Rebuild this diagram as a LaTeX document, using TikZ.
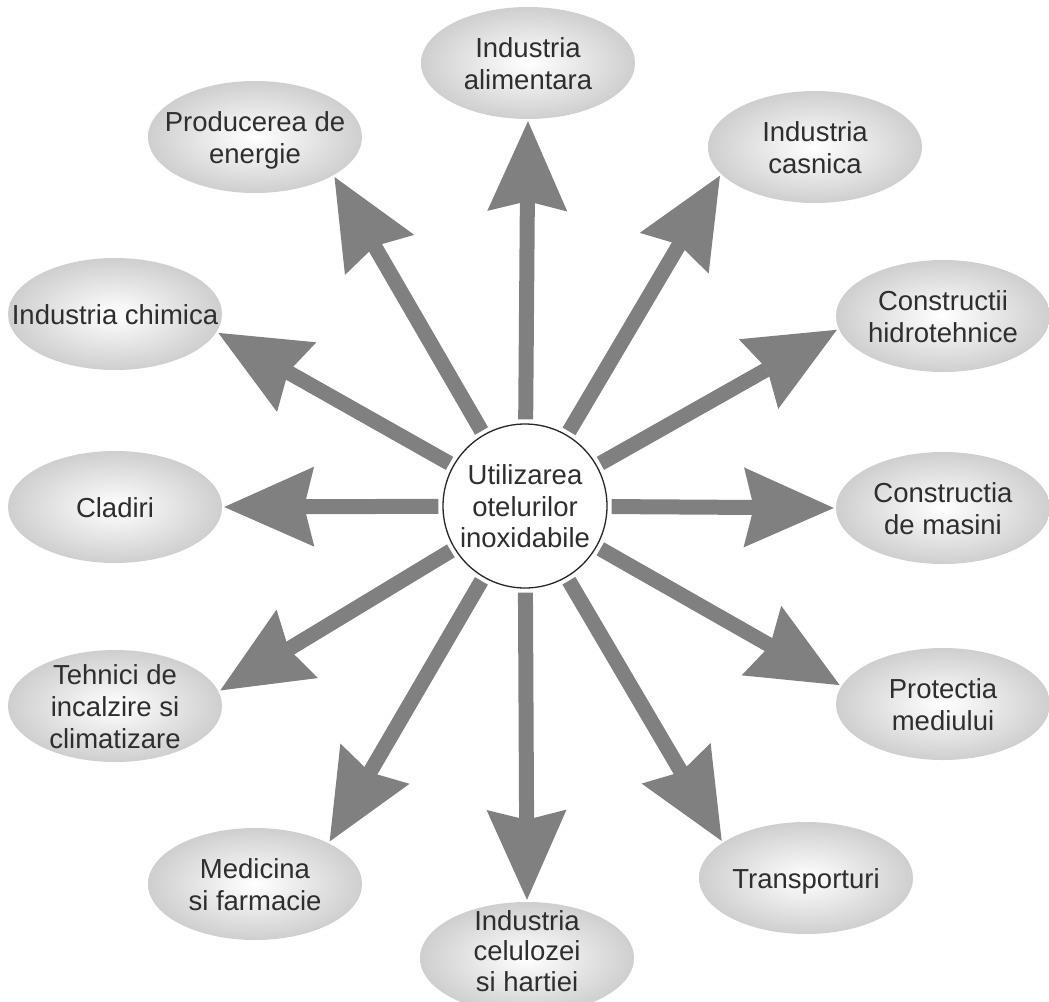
\documentclass[tikz,border=0pt]{standalone}
\usepackage{fontspec}
\setmainfont{Liberation Sans}
\usetikzlibrary{arrows.meta,shapes.geometric}
\definecolor{arrgray}{HTML}{808080}
\definecolor{txtgray}{HTML}{2E2E2E}
\newcommand\flattext[2][-10pt]{\makebox[0pt]{\smash{\raisebox{#1}{\begin{tabular}{@{}c@{}}#2\end{tabular}}}}}
\tikzset{
  field/.style={ellipse, shade, inner color=white, outer color=black!19,
    minimum width=214pt, minimum height=112pt, inner sep=0pt,
    text=txtgray, font=\fontsize{27.5}{32}\selectfont},
  hub/.style={circle, draw=black!85, line width=1.3pt, fill=white, minimum size=164pt,
    inner sep=0pt, text=txtgray, font=\fontsize{27.5}{31.5}\selectfont},
  ray/.style={draw=arrgray, line width=15pt,
    -{Stealth[length=90pt,width=80pt,inset=10pt,line width=0pt]},
    shorten <=4pt, shorten >=2pt}
}
\begin{document}
\begin{tikzpicture}[x=1pt,y=-1pt]
\clip (0,0) rectangle (1049,1001);
\useasboundingbox (0,0) rectangle (1049,1001);
\fill[white] (0,0) rectangle (1049,1001);

\node[hub] (c) at (525,506) {\flattext{Utilizarea\\otelurilor\\inoxidabile}};

\node[field] (alim) at (528,63) {\flattext{Industria\\alimentara}};
\node[field] (prod) at (255,137) {\flattext{Producerea de\\energie}};
\node[field] (casn) at (815,147) {\flattext{Industria\\casnica}};
\node[field] (chim) at (115,314) {\flattext{Industria chimica}};
\node[field] (hidr) at (943,316) {\flattext{Constructii\\hidrotehnice}};
\node[field] (clad) at (115,507) {\flattext{Cladiri}};
\node[field] (masi) at (943,508) {\flattext{Constructia\\de masini}};
\node[field] (tehn) at (115,706) {\flattext{Tehnici de\\incalzire si\\climatizare}};
\node[field] (prot) at (943,704) {\flattext{Protectia\\mediului}};
\node[field] (medi) at (255,884) {\flattext{Medicina\\si farmacie}};
\node[field] (tran) at (806,878) {\flattext{Transporturi}};
\node[field, font=\fontsize{27.5}{30.5}\selectfont] (celu) at (527,958) {\flattext[-3pt]{Industria\\celulozei\\si hartiei}};

\draw[ray] (c) -- (alim.south);
\draw[ray] (c) -- (prod.-26);
\draw[ray] (c) -- (casn.-164);
\draw[ray] (c) -- (chim.-10.5);
\draw[ray] (c) -- (hidr.-173.4);
\draw[ray] (c) -- (clad.east);
\draw[ray] (c) -- (masi.west);
\draw[ray] (c) -- (tehn.8.5);
\draw[ray] (c) -- (prot.170.4);
\draw[ray] (c) -- (medi.29.4);
\draw[ray] (c) -- (tran.157);
\draw[ray] (c) -- (celu.north);
\end{tikzpicture}
\end{document}
